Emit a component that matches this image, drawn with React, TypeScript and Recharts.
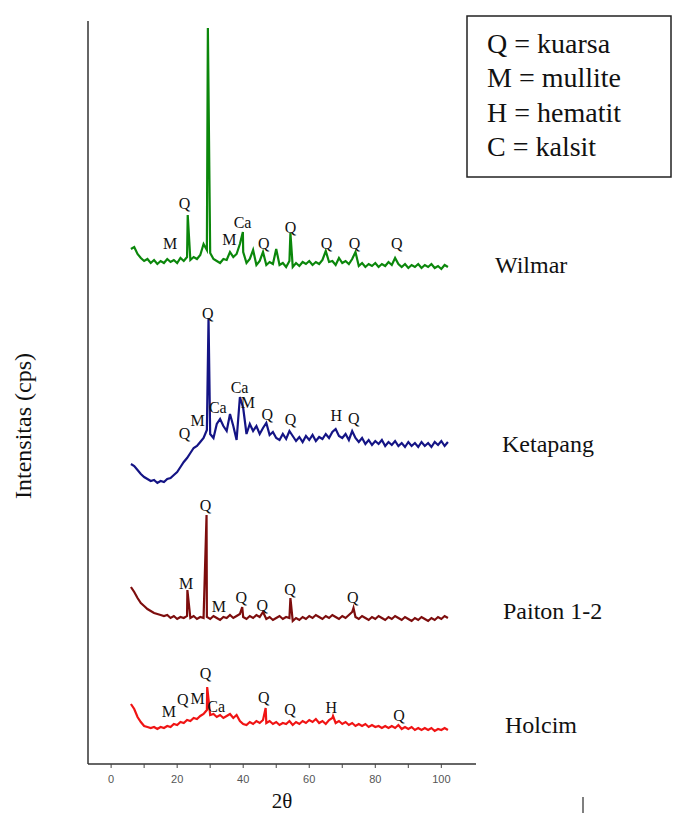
import { LineChart, Line, XAxis, YAxis, ReferenceLine, ReferenceDot } from "recharts";

// 2-theta grid (degrees, on the drawn axis)
const twoTheta = [
  6, 7, 8, 9, 10, 11, 12, 13, 14, 15, 16, 17, 18, 19, 20, 21, 22, 23, 24, 25, 26, 27, 28, 29, 30, 31, 32, 33,
  34, 35, 36, 37, 38, 39, 40, 41, 42, 43, 44, 45, 46, 47, 48, 49, 50, 51, 52, 53, 54, 55, 56, 57, 58, 59, 60,
  61, 62, 63, 64, 65, 66, 67, 68, 69, 70, 71, 72, 73, 74, 75, 76, 77, 78, 79, 80, 81, 82, 83, 84, 85, 86, 87,
  88, 89, 90, 91, 92, 93, 94, 95, 96, 97, 98, 99, 100, 101, 102,
];

// intensities (stacked, arbitrary cps) on the grid above
const wilmar = [
  515, 517, 510, 506, 503, 505, 501, 504, 500, 503, 501, 505, 502, 504, 501, 506, 503, 507, 504, 507, 505, 509, 520, 514,
  511, 505, 503, 501, 505, 504, 512, 507, 510, 520, 512, 501, 505, 514, 499, 503, 512, 499, 502, 500, 515, 499, 501,
  497, 503, 497, 501, 498, 502, 500, 503, 499, 502, 500, 504, 513, 502, 503, 499, 506, 501, 503, 500, 505, 512, 498,
  501, 497, 500, 498, 501, 497, 500, 498, 502, 499, 506, 500, 497, 500, 496, 499, 497, 500, 496, 499, 497, 500, 496,
  498, 495, 499, 497,
];
const ketapang = [
  300, 298, 294, 290, 287, 285, 283, 284, 281, 283, 282, 285, 286, 289, 292, 297, 302, 306, 311, 316, 318, 322, 326, 334,
  330, 326, 340, 345, 338, 333, 350, 338, 324, 367, 356, 330, 340, 333, 338, 330, 336, 341, 329, 332, 326, 324, 330,
  325, 333, 328, 323, 327, 322, 328, 324, 329, 323, 327, 325, 330, 326, 332, 335, 328, 326, 330, 324, 333, 326, 322,
  326, 320, 324, 319, 323, 320, 324, 318, 322, 319, 323, 318, 321, 317, 322, 318, 321, 317, 322, 318, 321, 317, 322,
  319, 323, 318, 322,
];
const paiton = [
  177, 172, 166, 161, 158, 155, 153, 151, 150, 149, 148, 149, 146, 148, 145, 147, 146, 148, 146, 148, 145, 147, 146, 147,
  145, 148, 146, 144, 147, 146, 149, 146, 148, 150, 147, 145, 148, 146, 149, 147, 152, 145, 147, 144, 146, 148, 145,
  147, 146, 143, 146, 144, 147, 145, 148, 146, 149, 147, 145, 148, 146, 149, 147, 145, 148, 146, 149, 152, 147, 145,
  148, 146, 144, 147, 145, 148, 146, 144, 147, 145, 148, 146, 144, 147, 145, 143, 146, 144, 147, 145, 143, 146, 144,
  147, 145, 148, 146,
];
const holcim = [
  60, 55, 47, 42, 38, 37, 36, 37, 35, 37, 36, 38, 37, 40, 39, 42, 41, 44, 43, 46, 45, 48, 50, 54, 49, 50, 47, 49, 46,
  48, 50, 46, 49, 43, 40, 39, 42, 40, 43, 41, 44, 41, 43, 40, 42, 39, 41, 40, 43, 39, 42, 40, 43, 41, 44, 42, 45, 41,
  43, 40, 44, 46, 41, 43, 40, 42, 39, 41, 38, 40, 38, 40, 37, 39, 37, 38, 36, 38, 36, 38, 36, 39, 35, 37, 35, 37, 34,
  36, 34, 36, 34, 36, 33, 35, 34, 36, 34,
];

// sharp reflections between grid points
const wilmarPeakAt = [23.2, 29.3, 39.9, 54.3];
const wilmarPeakTop = [549, 736, 532, 531];
const ketapangPeakAt = [29.5];
const ketapangPeakTop = [446];
const paitonPeakAt = [23.1, 28.9, 39.7, 54.3, 73.4];
const paitonPeakTop = [174, 249, 157, 166, 156];
const holcimPeakAt = [29.1, 46.8, 67.2];
const holcimPeakTop = [77, 56, 48];

// phase tags: text, 2-theta, intensity
const wilmarTags = ["Q", "Q", "M", "M", "Ca", "Q", "Q", "Q", "Q", "Q"];
const wilmarTagX = [28.6, 22.2, 17.9, 35.8, 39.8, 46.2, 54.3, 65.2, 73.7, 86.5];
const wilmarTagY = [747, 561, 521, 525, 542, 521, 537, 521, 521, 521];
const ketapangTags = ["Q", "Q", "M", "Ca", "Ca", "M", "Q", "Q", "H", "Q"];
const ketapangTagX = [29.3, 22.2, 26.2, 32.3, 38.9, 41.4, 47.3, 54.3, 68.2, 73.5];
const ketapangTagY = [451, 331, 344, 357, 377, 362, 350, 345, 349, 346];
const paitonTags = ["Q", "M", "M", "Q", "Q", "Q", "Q"];
const paitonTagX = [28.6, 22.7, 32.6, 39.4, 45.8, 54.2, 73.2];
const paitonTagY = [259, 181, 158, 167, 159, 175, 167];
const holcimTags = ["Q", "M", "Q", "M", "Ca", "Q", "Q", "H", "Q"];
const holcimTagX = [28.6, 17.5, 21.7, 26.2, 31.8, 46.2, 54.2, 66.7, 87.2];
const holcimTagY = [91, 53, 65, 66, 58, 67, 55, 57, 49];

const sampleNames = ["Wilmar", "Ketapang", "Paiton 1-2", "Holcim"];
const legendLines = ["Q = kuarsa", "M = mullite", "H = hematit", "C = kalsit"];
const xTicks = [0, 10, 20, 30, 40, 50, 60, 70, 80, 90, 100];

const SERIF = "Liberation Serif";

function trace(base: number[], peakAt: number[], peakTop: number[]) {
  const pts = twoTheta.map((x, i) => ({ x, y: base[i] }));
  peakAt.forEach((x, i) => pts.push({ x, y: peakTop[i] }));
  return pts.sort((a, b) => a.x - b.x);
}

const series = [
  { name: sampleNames[0], color: "#0b870b", data: trace(wilmar, wilmarPeakAt, wilmarPeakTop) },
  { name: sampleNames[1], color: "#141485", data: trace(ketapang, ketapangPeakAt, ketapangPeakTop) },
  { name: sampleNames[2], color: "#7d0d0d", data: trace(paiton, paitonPeakAt, paitonPeakTop) },
  { name: sampleNames[3], color: "#f01414", data: trace(holcim, holcimPeakAt, holcimPeakTop) },
];

const tagSets = [
  [wilmarTags, wilmarTagX, wilmarTagY],
  [ketapangTags, ketapangTagX, ketapangTagY],
  [paitonTags, paitonTagX, paitonTagY],
  [holcimTags, holcimTagX, holcimTagY],
] as [string[], number[], number[]][];

const namePos = [
  { x: 495, y: 273 },
  { x: 502, y: 452 },
  { x: 503, y: 619 },
  { x: 505, y: 733 },
];

const serifText = { fontFamily: SERIF, fill: "#111" };

export default function App() {
  return (
    <div style={{ position: "absolute", left: 0, top: 0, width: 673, height: 813, background: "#fff" }}>
      <LineChart width={673} height={813} margin={{ top: 21, right: 197, bottom: 0, left: 88 }}>
        <XAxis
          type="number"
          dataKey="x"
          domain={[-7, 110.5]}
          ticks={xTicks}
          height={49}
          tickSize={4}
          tickMargin={7}
          tickFormatter={(v: number) => (v % 20 === 0 ? String(v) : "")}
          tick={{ fill: "#555", fontSize: 11, fontFamily: "Liberation Sans" }}
          axisLine={{ stroke: "#333", strokeWidth: 1.5 }}
          tickLine={{ stroke: "#444" }}
          label={{ value: "2θ", position: "insideBottom", offset: 5, fill: "#111", fontSize: 21, fontFamily: SERIF }}
          allowDataOverflow
        />
        <YAxis type="number" domain={[0, 743]} hide />
        <ReferenceLine x={-7} stroke="#333" strokeWidth={1.5} />
        {series.map((s) => (
          <Line
            key={s.name}
            data={s.data}
            dataKey="y"
            type="linear"
            stroke={s.color}
            strokeWidth={2.2}
            dot={false}
            isAnimationActive={false}
          />
        ))}
        {tagSets.flatMap(([tags, xs, ys], k) =>
          tags.map((t, i) => (
            <ReferenceDot
              key={`${k}-${i}`}
              x={xs[i]}
              y={ys[i]}
              r={0}
              fill="none"
              stroke="none"
              label={{ value: t, position: "center", fill: "#111", fontSize: 16, fontFamily: SERIF }}
            />
          ))
        )}
      </LineChart>
      <svg
        width={673}
        height={813}
        style={{ position: "absolute", left: 0, top: 0, pointerEvents: "none" }}
      >
        <rect x={467} y={16} width={204} height={161} fill="#fff" stroke="#222" strokeWidth={1.5} />
        {legendLines.map((t, i) => (
          <text key={t} x={487} y={53 + i * 34.3} fontSize={28} style={serifText}>
            {t}
          </text>
        ))}
        {sampleNames.map((n, i) => (
          <text key={n} x={namePos[i].x} y={namePos[i].y} fontSize={24} style={serifText}>
            {n}
          </text>
        ))}
        <text x={31} y={426} fontSize={24} textAnchor="middle" transform="rotate(-90 31 426)" style={serifText}>
          Intensitas (cps)
        </text>
        <line x1={583} y1={797} x2={583} y2={813} stroke="#555" strokeWidth={1.5} />
      </svg>
    </div>
  );
}
